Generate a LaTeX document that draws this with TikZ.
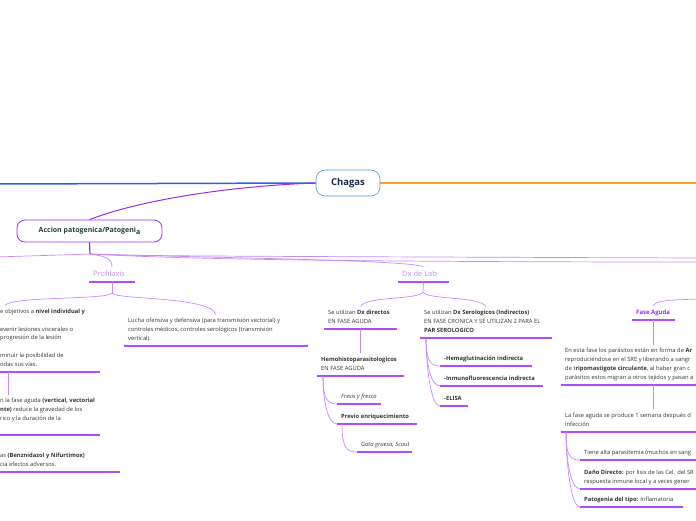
\documentclass[tikz,border=0pt]{standalone}
\usepackage{fontspec}
\setmainfont{Open Sans}
\definecolor{txt}{HTML}{333333}
\definecolor{ulc}{HTML}{B44CF5}
\definecolor{lnk}{HTML}{C88AF7}
\definecolor{acc}{HTML}{9B2FE8}
\definecolor{lbl}{HTML}{C98CF5}
\definecolor{bluel}{HTML}{2D5FE6}
\definecolor{orangel}{HTML}{F5A01E}
\definecolor{chb}{HTML}{4A9BD9}
\definecolor{navy}{HTML}{1C2C4C}
\definecolor{teal}{HTML}{1F3D3A}
\begin{document}
\begin{tikzpicture}[x=1pt,y=-1pt]
        \useasboundingbox (0,0) rectangle (696,520);
        \clip (0,0) rectangle (696,520);
        \tikzset{topic/.style={anchor=south west, align=left, inner xsep=4pt, inner ysep=3.5pt,
                text depth=2pt, text=txt, font=\fontsize{5.8}{8.8}\selectfont},
                uline/.style={draw=ulc, line width=1.4pt},
                link/.style={draw=lnk, line width=0.7pt},
                label/.style={topic, text=lbl, font=\fontsize{7.5}{9}\selectfont}}
        \node[draw=chb, fill=white, rounded corners=9pt, minimum width=64pt, minimum height=26pt,
              line width=0.6pt, text=navy, font=\fontsize{9.5}{11}\selectfont\bfseries] (chagas) at (348,183) {Chagas};
        \node[draw=acc, rounded corners=8pt, minimum width=145pt, minimum height=22pt, line width=0.8pt,
              text=teal, font=\fontsize{7}{9}\selectfont\bfseries] (accion) at (89.5,231) {Accion patogenica/Patogeni\raisebox{-1.3pt}{a}};
        \coordinate (leftend) at (-5,184);
        \coordinate (rightend) at (700,183);
        \coordinate (hub) at (90,254);
        \coordinate (hubl) at (-5,257);
        \coordinate (hubr1) at (700,258);
        \coordinate (hubr2) at (700,262);
        \coordinate (profhub) at (112,293);
        \coordinate (dxhub) at (423,292);
        \coordinate (faparent) at (700,299);
        \draw[draw=bluel, line width=1.5pt] (leftend) -- (chagas.west);
        \draw[draw=orangel, line width=1.5pt] (chagas.east) -- (rightend);
        \draw[draw=acc, line width=1pt] (chagas.west) .. controls (230,186) and (140,200) .. (accion.north);
        \draw[draw=acc, line width=1.2pt] (accion.south) -- (hub);

        \node[label] (prof) at (89,282) {Profilaxis};
        \node[label] (dxlab) at (398,282) {Dx de Lab};
        \node[topic, text=acc, font=\fontsize{6}{8.8}\selectfont\bfseries] (fa) at (632,320) {Fase Aguda};

        \node[topic] (pl1) at (-4,372) {e objetivos a \textbf{nivel individual y}\\ \\evenir lesiones viscerales o\\progresión de la lesión\\ \\minuir la posibilidad de\\odas sus vías.};
        \node[topic] (pl2) at (-4,435) {n la fase aguda \textbf{(vertical, vectorial}\\\textbf{nte)} reduce la gravedad de los\\rico y la duración de la\\ };
        \node[topic] (pl3) at (-4,472) {as \textbf{(Benznidazol y Nifurtimox)}\\cia efectos adversos.};
        \node[topic] (pr1) at (124,346) {Lucha ofensiva y defensiva (para transmisión vectorial) y\\ controles médicos, controles serológicos (transmisión\\vertical).};

        \node[topic] (dl1) at (324,329) {Se utilizan \textbf{Dx directos}\\EN FASE AGUDA};
        \node[topic] (dl2) at (317,376) {\textbf{Hemohistoparasitologicos}\\EN FASE AGUDA};
        \node[topic] (dl3) at (337,404) {\textit{Fresis y fresco}};
        \node[topic] (dl4) at (337,424) {\textbf{Previo enriquecimiento}};
        \node[topic] (dl5) at (357,452) {\textit{Gota gruesa, Scout}};
        \node[topic] (dr1) at (420,338) {Se utilizan \textbf{Dx Serologicos (Indirectos)}\\EN FASE CRONICA Y SE UTILIZAN 2 PARA EL\\\textbf{PAR SEROLOGICO}};
        \node[topic] (dr2) at (440,366) {\textbf{-Hemaglutinación indirecta}};
        \node[topic] (dr3) at (440,386) {\textbf{-Inmunofluorescencia indirecta}};
        \node[topic] (dr4) at (440,406) {\textbf{-ELISA}};

        \node[topic] (fa1) at (561,385) {En esta fase los parásitos están en forma de \textbf{Ar}\\reproduciéndose en el SRE y liberando a sangr\\de t\textbf{ripomastigote circulante}, al haber gran c\\parásitos estos migran a otros tejidos y pasan a};
        \node[topic] (fa2) at (561,432) {La fase aguda se produce 1 semana después d\\infección};
        \node[topic] (fa3) at (580,460) {Tiene alta parasitemia (muchos en sang};
        \node[topic] (fa4) at (580,489) {\textbf{Daño Directo:} por lisis de las Cel. del SR\\respuesta inmune local y a veces gener};
        \node[topic] (fa5) at (580,507) {\textbf{Patogenia del tipo:} Inflamatoria};

        \foreach \n/\w in {prof/46, dxlab/51, fa/43, pl1/104, pl2/104, pl3/124, pr1/184,
                dl1/73, dl2/87, dl3/44, dl4/80, dl5/55, dr1/132, dr2/92, dr3/103, dr4/28,
                fa1/200, fa2/200, fa3/200, fa4/200, fa5/103}
            \draw[uline] (\n.south west) -- ++(\w,0);

        \draw[link] (hub) .. controls (60,255) .. (hubl);
        \draw[link] (hub) .. controls (150,256) .. (hubr1);
        \draw[link] (hub) .. controls (160,258) and (300,262) .. (hubr2);
        \draw[link] (hub) .. controls (104,256) and (112,258) .. ([xshift=23pt]prof.north west);
        \draw[link] (hub) .. controls (220,258) and (412,260) .. ([xshift=25.5pt]dxlab.north west);

        \draw[link] ([xshift=23pt]prof.south west) -- (profhub);
        \draw[link] (profhub) .. controls (108,300) and (12,296) .. ([xshift=9pt]pl1.north west);
        \draw[link] (profhub) .. controls (116,300) and (210,296) .. ([xshift=92pt]pr1.north west);
        \draw[link] ([xshift=12pt]pl1.south west) -- ([xshift=12pt]pl2.north west);

        \draw[link] ([xshift=25.5pt]dxlab.south west) -- (dxhub);
        \draw[link] (dxhub) .. controls (419,300) and (366,296) .. ([xshift=36.5pt]dl1.north west);
        \draw[link] (dxhub) .. controls (427,300) and (480,296) .. ([xshift=66pt]dr1.north west);
        \draw[link] ([xshift=36.5pt]dl1.south west) -- ([xshift=43.5pt]dl2.north west);
        \foreach \n in {dl3, dl4}
            \draw[link] ([xshift=6pt]dl2.south west) .. controls +(0,22) and +(-10,0) .. (\n.south west);
        \draw[link] ([xshift=5pt]dl4.south west) .. controls +(0,24) and +(-10,0) .. (dl5.south west);
        \foreach \n in {dr2, dr3, dr4}
            \draw[link] ([xshift=6pt]dr1.south west) .. controls +(0,22) and +(-10,0) .. (\n.south west);

        \draw[link] (faparent) .. controls (665,300) and (655,301) .. ([xshift=21.5pt]fa.north west);
        \draw[link] ([xshift=21.5pt]fa.south west) -- ([xshift=92.5pt]fa1.north west);
        \draw[link] ([xshift=92.5pt]fa1.south west) -- ([xshift=92.5pt]fa2.north west);
        \foreach \n in {fa3, fa4, fa5}
            \draw[link] ([xshift=5pt]fa2.south west) .. controls +(0,24) and +(-10,0) .. (\n.south west);
\end{tikzpicture}
\end{document}
